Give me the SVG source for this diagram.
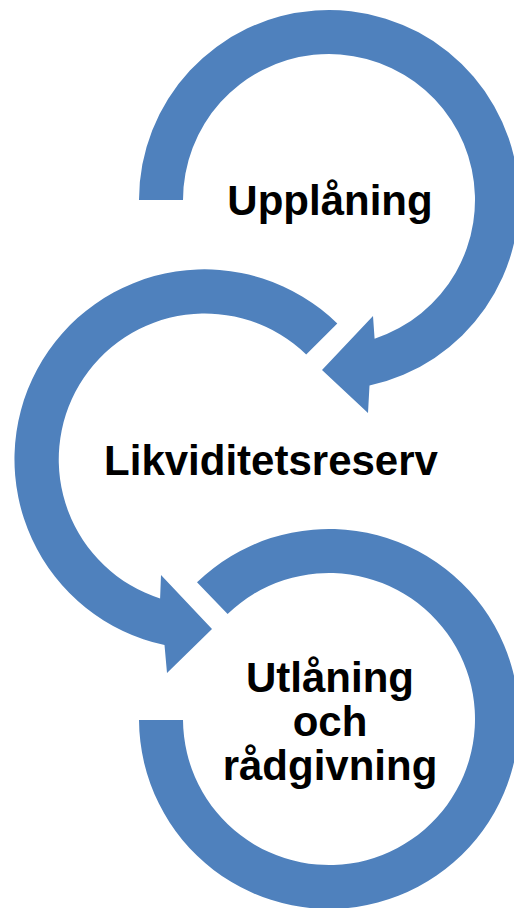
<svg xmlns="http://www.w3.org/2000/svg" width="514" height="908" viewBox="0 0 514 908">
  <style>
    .arrow { fill: #4F81BD; stroke: none; }
    .label { font-family: "Liberation Sans", Arial, sans-serif; font-weight: bold; font-size: 42px; fill: #000000; text-anchor: middle; }
  </style>
  <g id="connectors">
    <path id="arrow1" class="arrow" d="M 139,200 A 190 190 0 1 1 369.5,385.6 L 368,413 L 322,370 L 373,316 L 374.6,338.7 A 146 146 0 1 0 183,200 Z"/>
    <path id="arrow2" class="arrow" d="M 337.3,323.5 A 190 190 0 1 0 164.5,645.1 L 167,673 L 212,629 L 161,575 L 160.1,598.5 A 146 146 0 1 1 306.2,354.5 Z"/>
    <path id="arrow3" class="arrow" d="M 197,582.3 A 190 190 0 1 1 139,720 L 183,720 A 146 146 0 1 0 227.6,614 Z"/>
  </g>
  <g id="node-upplaning">
    <text class="label" x="330" y="215">Upplåning</text>
  </g>
  <g id="node-likviditetsreserv">
    <text class="label" x="271" y="475">Likviditetsreserv</text>
  </g>
  <g id="node-utlaning">
    <text class="label" x="330" y="692">Utlåning</text>
    <text class="label" x="330" y="736">och</text>
    <text class="label" x="330" y="780">rådgivning</text>
  </g>
</svg>
